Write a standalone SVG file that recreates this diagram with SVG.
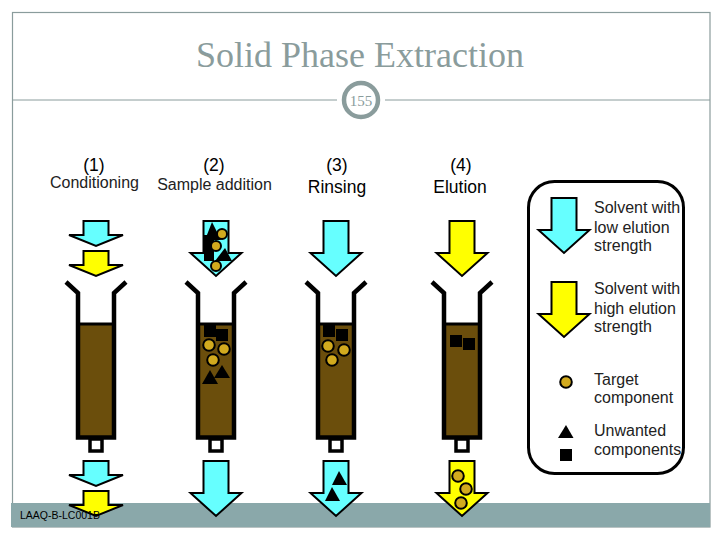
<svg xmlns="http://www.w3.org/2000/svg" xmlns:xlink="http://www.w3.org/1999/xlink" width="720" height="540" viewBox="0 0 720 540">
<style>
text{font-family:"Liberation Sans",Arial,sans-serif;fill:#000}
.t{font-family:"Liberation Serif","Times New Roman",serif;fill:#8a9c9c}
.m{text-anchor:middle}
.n{font-size:17.500px}
.h{font-size:17.500px}
.s{font-size:16px;fill:#222}
.l{font-size:16px;fill:#222}
.cy{fill:#66ffff;stroke:#000;stroke-width:2;stroke-linejoin:miter}
.ye{fill:#ffff00;stroke:#000;stroke-width:2;stroke-linejoin:miter}
.c{fill:#d2aa1e;stroke:#000;stroke-width:2}
.w{fill:none;stroke:#000;stroke-width:4.500}
.b{fill:#6b4e0c}
</style>
<defs>
<polygon id="big" points="-12.500,0 12.500,0 12.500,32 25.500,32 0,55 -25.500,32 -12.500,32"/>
<polygon id="small" points="-12.500,0 12.500,0 12.500,14 27,14 0,25 -27,14 -12.500,14"/>
<g id="syr">
<rect class="b" x="-18" y="41" width="36" height="114"/>
<path class="w" d="M-30,-1 L-18,10 V154.500 H18 V10 L30,-1"/>
<path d="M-18,41 H18" fill="none" stroke="#000" stroke-width="3"/>
<rect x="-6" y="156" width="12" height="12" fill="#fff" stroke="#000" stroke-width="3.500"/>
</g>
<circle id="dot" class="c" r="5.800"/>
<circle id="dot2" class="c" r="5"/>
</defs>

<g id="frame">
<rect x="12.500" y="12.500" width="697.500" height="514.500" fill="#fff" stroke="#8a9c9c" stroke-width="1.200"/>
<path d="M12.500,100 H337 M385,100 H710" stroke="#8a9c9c" stroke-width="1"/>
<rect x="11" y="503" width="699" height="24" fill="#8aa8aa"/>
</g>
<g id="title">
<text class="t m" x="360" y="67" font-size="36">Solid Phase Extraction</text>
</g>
<g id="page-number">
<circle cx="361" cy="100" r="17" fill="#fff" stroke="#8a9c9c" stroke-width="4.500"/>
<text class="t m" x="361" y="106" font-size="15">155</text>
</g>

<g id="step1">
<text class="n m" x="94" y="171">(1)</text>
<text class="s m" x="94.500" y="188">Conditioning</text>
<use href="#small" x="96" y="221" class="cy"/>
<use href="#small" x="96" y="251" class="ye"/>
<use href="#syr" x="96" y="283"/>
<use href="#small" x="96" y="461" class="cy"/>
<use href="#small" x="96" y="491" class="ye"/>
</g>

<g id="step2">
<text class="n m" x="214" y="171">(2)</text>
<text class="s m" x="214.500" y="190">Sample addition</text>
<use href="#big" x="216" y="221" class="cy"/>
<polygon points="212,222 221,240 205,240"/>
<rect x="204" y="235" width="10" height="26"/>
<polygon points="225,248 232,261 215,261"/>
<use href="#dot2" x="222" y="234"/>
<use href="#dot2" x="216" y="246"/>
<use href="#dot2" x="216" y="266"/>
<use href="#syr" x="216" y="283"/>
<rect x="204" y="325" width="12" height="12"/>
<rect x="216" y="329" width="12" height="12"/>
<use href="#dot" x="209" y="345"/>
<use href="#dot" x="224" y="349"/>
<use href="#dot" x="213" y="360"/>
<polygon points="210,370 218,384 202,384"/>
<polygon points="222,365 230,378 214,378"/>
<use href="#big" x="216" y="461" class="cy"/>
</g>

<g id="step3">
<text class="n m" x="337" y="171">(3)</text>
<text class="h m" x="337" y="193">Rinsing</text>
<use href="#big" x="336" y="221" class="cy"/>
<use href="#syr" x="336" y="283"/>
<rect x="323" y="325" width="12" height="12"/>
<rect x="336" y="329" width="12" height="12"/>
<use href="#dot" x="328" y="346"/>
<use href="#dot" x="344" y="350"/>
<use href="#dot" x="332" y="360"/>
<use href="#big" x="336" y="461" class="cy"/>
<polygon points="339,471 347,485 332,485"/>
<polygon points="332,487 340,501 325,501"/>
</g>

<g id="step4">
<text class="n m" x="461" y="171">(4)</text>
<text class="h m" x="460" y="193">Elution</text>
<use href="#big" x="462" y="221" class="ye"/>
<use href="#syr" x="462" y="283"/>
<rect x="450" y="335" width="12" height="12"/>
<rect x="463" y="338" width="12" height="12"/>
<use href="#big" x="462" y="461" class="ye"/>
<use href="#dot" x="458" y="476"/>
<use href="#dot" x="466" y="489"/>
<use href="#dot" x="461" y="503"/>
</g>

<g id="footer">
<text x="20" y="519" font-size="10.500" fill="#111">LAAQ-B-LC001B</text>
</g>

<g id="legend">
<rect x="528.500" y="181.500" width="155" height="292" rx="26" fill="#fff" stroke="#000" stroke-width="3"/>
<g id="legend-low">
<use href="#big" x="564" y="198" class="cy"/>
<text class="l" x="594" y="213">Solvent with</text>
<text class="l" x="594" y="233">low elution</text>
<text class="l" x="594" y="251">strength</text>
</g>
<g id="legend-high">
<use href="#big" x="564" y="282" class="ye"/>
<text class="l" x="594" y="294">Solvent with</text>
<text class="l" x="594" y="314">high elution</text>
<text class="l" x="594" y="332">strength</text>
</g>
<g id="legend-target">
<use href="#dot" x="566" y="382"/>
<text class="l" x="594" y="385">Target</text>
<text class="l" x="594" y="403">component</text>
</g>
<g id="legend-unwanted">
<polygon points="566,425 573.500,438 558,438"/>
<rect x="560" y="449" width="12" height="12"/>
<text class="l" x="594" y="436">Unwanted</text>
<text class="l" x="594" y="455">components</text>
</g>
</g>
</svg>
